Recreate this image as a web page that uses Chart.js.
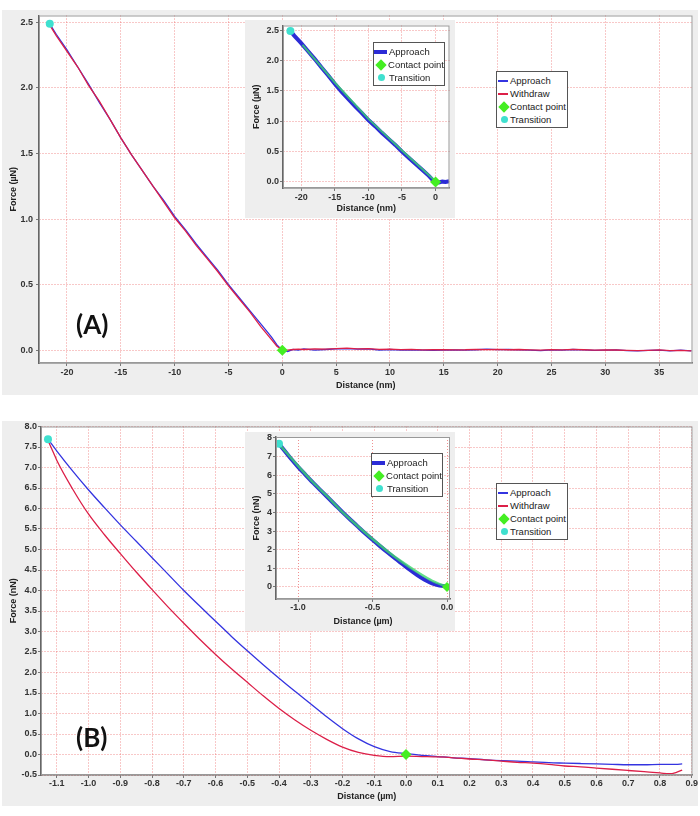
<!DOCTYPE html>
<html>
<head>
<meta charset="utf-8">
<script src="https://cdn.jsdelivr.net/npm/chart.js@4.4.1/dist/chart.umd.min.js"></script>
<style>
body { margin:0; background:#fff; width:700px; height:816px; position:relative; overflow:hidden; font-family:"Liberation Sans", Arial, sans-serif; }
canvas { position:absolute; background:#eeeeee; }
.legenda { position:absolute; background:#fff; border:1px solid #555; font-size:9.5px; color:#222; box-sizing:border-box; padding-top:2px; }
.item { height:13px; line-height:13px; white-space:nowrap; display:flex; align-items:center; }
.marca { display:inline-flex; justify-content:center; align-items:center; height:13px; }
.rotulo { position:absolute; font:bold 26px Lato, "Open Sans", sans-serif; color:#111; }
</style>
</head>
<body>
<canvas id="mainA" width="696" height="385" style="left:2px;top:10px"></canvas>
<canvas id="insetA" width="210" height="198" style="left:245px;top:20px"></canvas>
<canvas id="mainB" width="696" height="385" style="left:2px;top:421px"></canvas>
<canvas id="insetB" width="210" height="199" style="left:245px;top:432px"></canvas>

<div class="legenda" id="legMainA" style="left:496px;top:71px;width:72px;height:57px"></div>
<div class="legenda" id="legInsetA" style="left:373px;top:42px;width:72px;height:44px"></div>
<div class="legenda" id="legMainB" style="left:496px;top:483px;width:72px;height:57px"></div>
<div class="legenda" id="legInsetB" style="left:371px;top:453px;width:72px;height:44px"></div>

<div class="rotulo" style="left:76px;top:308px">(A)</div>
<div class="rotulo" style="left:76px;top:721px">(B)</div>

<script>
// ---------- Painel A (distância em nm, força em µN) ----------
const distA = [-21.6, -21, -20, -19, -18, -17, -16, -15, -14, -13, -12, -11, -10, -9, -8, -7, -6, -5, -4, -3, -2, -1, -0.5, 0,
  0.5, 1, 1.5, 2, 3, 4, 5, 6, 7, 8, 9, 10, 11, 12, 13, 14, 15, 16, 17, 18, 19, 20, 21, 22, 23, 24, 25, 26, 27, 28, 29, 30,
  31, 32, 33, 34, 35, 36, 37, 38];
const aproxA = [2.49, 2.41, 2.29, 2.16, 2.03, 1.89, 1.76, 1.62, 1.49, 1.37, 1.25, 1.14, 1.02, 0.92, 0.81, 0.71, 0.61, 0.50, 0.40, 0.30, 0.20, 0.10, 0.04, 0.00,
  -0.01, 0.005, 0.0, 0.01, 0.0, 0.005, 0.01, 0.012, 0.008, 0.01, 0.0, 0.005, 0.0, 0.003, 0.0, -0.002, 0.0, 0.002, 0.0, 0.003, 0.008, 0.004,
  0.005, 0.002, 0.0, -0.003, 0.002, 0.0, 0.005, 0.002, -0.002, 0.0, 0.002, -0.003, -0.006, -0.002, 0.0, -0.005, 0.0, -0.005];
const retiradaA = [2.48, 2.40, 2.28, 2.16, 2.02, 1.90, 1.76, 1.62, 1.49, 1.37, 1.25, 1.13, 1.01, 0.91, 0.80, 0.70, 0.60, 0.49, 0.39, 0.29, 0.18, 0.08, 0.03, 0.00,
  0.0, 0.005, 0.008, 0.005, 0.01, 0.008, 0.012, 0.015, 0.01, 0.012, 0.006, 0.008, 0.004, 0.006, 0.002, 0.003, 0.004, 0.002, 0.003, 0.006, 0.004, 0.006,
  0.003, 0.005, 0.002, 0.0, 0.004, 0.002, 0.006, 0.003, 0.0, 0.002, 0.001, -0.002, -0.004, -0.001, 0.002, -0.003, -0.002, -0.006];
const ajusteDistA = [-19.8, -15, -10, -5, 0];
const ajusteForcaA = [2.26, 1.64, 1.04, 0.52, 0.01];
const contatoA = { x: 0, y: 0 };
const transicaoA = { x: -21.6, y: 2.49 };
const ticksXA = [-20, -15, -10, -5, 0, 5, 10, 15, 20, 25, 30, 35];
const ticksYA = [0, 0.5, 1, 1.5, 2, 2.5];
const ticksXInsetA = [-20, -15, -10, -5, 0];

// ---------- Painel B (distância em µm, força em nN) ----------
const distAproxB = [-1.128, -1.10, -1.05, -1.00, -0.95, -0.90, -0.85, -0.80, -0.75, -0.70, -0.65, -0.60, -0.55, -0.50, -0.45, -0.40,
  -0.35, -0.30, -0.25, -0.20, -0.15, -0.10, -0.05, 0.00, 0.05, 0.10, 0.15, 0.20, 0.25, 0.30, 0.35, 0.40, 0.45, 0.50, 0.55, 0.60,
  0.65, 0.70, 0.75, 0.80, 0.85, 0.87];
const aproxB = [7.69, 7.40, 6.91, 6.45, 6.02, 5.60, 5.20, 4.80, 4.40, 4.00, 3.62, 3.25, 2.88, 2.53, 2.19, 1.86,
  1.54, 1.23, 0.92, 0.63, 0.38, 0.19, 0.07, 0.02, -0.02, -0.05, -0.08, -0.10, -0.13, -0.15, -0.16, -0.18, -0.20, -0.21, -0.22, -0.23,
  -0.24, -0.25, -0.25, -0.24, -0.24, -0.23];
const distRetB = [-1.128, -1.11, -1.10, -1.05, -1.00, -0.95, -0.90, -0.85, -0.80, -0.75, -0.70, -0.65, -0.60, -0.55, -0.50, -0.45,
  -0.40, -0.35, -0.30, -0.25, -0.20, -0.15, -0.10, -0.05, 0.00, 0.05, 0.10, 0.15, 0.20, 0.25, 0.30, 0.35, 0.40, 0.45, 0.50, 0.55,
  0.60, 0.65, 0.70, 0.75, 0.80, 0.83, 0.85, 0.87];
const retiradaB = [7.66, 7.35, 7.17, 6.47, 5.86, 5.36, 4.90, 4.45, 4.02, 3.60, 3.20, 2.81, 2.44, 2.09, 1.76, 1.43,
  1.12, 0.84, 0.59, 0.37, 0.18, 0.05, -0.02, -0.05, -0.04, -0.05, -0.06, -0.08, -0.11, -0.13, -0.16, -0.19, -0.21, -0.24, -0.28, -0.30,
  -0.33, -0.36, -0.39, -0.42, -0.45, -0.47, -0.44, -0.38];
const ajusteDistB = [-1.12, -1.0, -0.9, -0.8, -0.7, -0.6, -0.5, -0.4, -0.3, -0.2, -0.1, 0.0];
const ajusteForcaB = [7.60, 6.50, 5.62, 4.83, 4.00, 3.27, 2.57, 1.92, 1.33, 0.80, 0.33, 0.0];
const contatoB = { x: 0, y: 0 };
const transicaoB = { x: -1.128, y: 7.69 };
const ticksXB = [-1.1, -1.0, -0.9, -0.8, -0.7, -0.6, -0.5, -0.4, -0.3, -0.2, -0.1, 0.0, 0.1, 0.2, 0.3, 0.4, 0.5, 0.6, 0.7, 0.8, 0.9];
const ticksYB = [-0.5, 0, 0.5, 1, 1.5, 2, 2.5, 3, 3.5, 4, 4.5, 5, 5.5, 6, 6.5, 7, 7.5, 8];
const ticksXInsetB = [-1.0, -0.5, 0.0];
const ticksYInsetB = [0, 1, 2, 3, 4, 5, 6, 7, 8];

const corAzul = '#3434e0';
const corVermelho = '#dc1f48';
const corVerde = '#44ee22';
const corCiano = '#3fe0cf';
const corGrade = 'rgba(230,70,70,0.6)';
const fonteTick = { family: '"Liberation Sans", Arial, sans-serif', size: 9, weight: 'bold' };

function pontos(xs, ys) {
  return xs.map((x, i) => ({ x: x, y: ys[i] }));
}

// fundo branco da área do gráfico e contorno cinza
const fundoPlot = {
  id: 'fundoPlot',
  beforeDraw(chart) {
    const a = chart.chartArea, ctx = chart.ctx;
    ctx.save();
    ctx.fillStyle = '#fff';
    ctx.fillRect(a.left, a.top, a.right - a.left, a.bottom - a.top);
    ctx.restore();
  },
  afterDraw(chart) {
    const a = chart.chartArea, ctx = chart.ctx;
    ctx.save();
    ctx.strokeStyle = '#999';
    ctx.lineWidth = 1;
    ctx.strokeRect(a.left + 0.5, a.top + 0.5, a.right - a.left - 1, a.bottom - a.top - 1);
    ctx.restore();
  }
};

function eixo(c) {
  return {
    type: 'linear',
    min: c.min,
    max: c.max,
    afterBuildTicks: s => { s.ticks = c.ticks.map(v => ({ value: v })); },
    afterFit: s => {
      if (c.vertical) s.width = c.tam; else s.height = c.tam;
      s.paddingLeft = 0; s.paddingRight = 0; s.paddingTop = 0; s.paddingBottom = 0;
    },
    ticks: { callback: v => v.toFixed(c.dec), font: fonteTick, color: '#333', padding: c.pad, maxRotation: 0, autoSkip: false },
    grid: { color: corGrade, tickColor: '#777', tickLength: 3 },
    border: { color: '#666', width: 1.5, dash: [1, 2] },
    title: {
      display: true, text: c.titulo, font: fonteTick, color: '#222',
      padding: c.vertical ? { top: 6, bottom: 0 } : { top: 0, bottom: c.titPad }
    }
  };
}

function criarGrafico(id, datasets, x, y, padding) {
  return new Chart(document.getElementById(id), {
    type: 'scatter',
    data: { datasets: datasets },
    options: {
      responsive: false,
      animation: false,
      layout: { padding: padding },
      plugins: { legend: { display: false }, tooltip: { enabled: false } },
      scales: { x: eixo(x), y: eixo(Object.assign({ vertical: true }, y)) }
    },
    plugins: [fundoPlot]
  });
}

function linha(label, dados, cor, largura, ordem, naLegenda, suave) {
  return { label: label, data: dados, showLine: true, borderColor: cor, backgroundColor: cor,
    borderWidth: largura, pointRadius: 0, order: ordem, legenda: naLegenda !== false,
    cubicInterpolationMode: suave ? 'monotone' : 'default', tension: suave ? 0.4 : 0 };
}
function marcador(label, ponto, cor, estilo, raio) {
  return { label: label, data: [ponto], showLine: false, pointStyle: estilo, pointRadius: raio,
    backgroundColor: cor, borderColor: cor, borderWidth: 0, order: 0, legenda: true };
}

// legenda em HTML montada a partir dos datasets
function montarLegenda(idDiv, datasets, larguraAmostra, recuo) {
  const div = document.getElementById(idDiv);
  div.style.paddingLeft = recuo + 'px';
  datasets.filter(ds => ds.legenda).forEach(ds => {
    const item = document.createElement('div');
    item.className = 'item';
    const marca = document.createElement('span');
    marca.className = 'marca';
    marca.style.width = (larguraAmostra + 2) + 'px';
    const forma = document.createElement('span');
    if (ds.showLine) {
      forma.style.cssText = 'display:block;width:' + larguraAmostra + 'px;height:' + Math.max(2, ds.borderWidth) + 'px;background:' + ds.borderColor;
      marca.style.justifyContent = 'flex-start';
    } else if (ds.pointStyle === 'rectRot') {
      forma.style.cssText = 'display:block;width:8px;height:8px;transform:rotate(45deg);background:' + ds.backgroundColor;
    } else {
      forma.style.cssText = 'display:block;width:7px;height:7px;border-radius:50%;background:' + ds.backgroundColor;
    }
    marca.appendChild(forma);
    item.appendChild(marca);
    const txt = document.createElement('span');
    txt.textContent = ds.label;
    item.appendChild(txt);
    div.appendChild(item);
  });
}

// ---------- A principal ----------
const dsMainA = [
  linha('Approach', pontos(distA, aproxA), corAzul, 1.3, 2),
  linha('Withdraw', pontos(distA, retiradaA), corVermelho, 1.3, 1),
  marcador('Contact point', contatoA, corVerde, 'rectRot', 5.5),
  marcador('Transition', transicaoA, corCiano, 'circle', 4)
];
criarGrafico('mainA', dsMainA,
  { min: -22.6, max: 38.1, ticks: ticksXA, dec: 0, tam: 32, pad: 1, titulo: 'Distance (nm)', titPad: 4.5 },
  { min: -0.098, max: 2.553, ticks: ticksYA, dec: 1, tam: 37, pad: 3, titulo: 'Force (µN)' },
  { top: 3, right: 3, left: 0, bottom: 0 });
montarLegenda('legMainA', dsMainA, 10, 1);

// ---------- A detalhe ----------
const dsInsetA = [
  linha('Approach', pontos(distA.filter(x => x <= 2.1), aproxA), '#2c2cd6', 4, 2),
  linha('Ajuste', pontos(ajusteDistA, ajusteForcaA), 'rgba(60,215,110,0.8)', 2, 1, false),
  marcador('Contact point', contatoA, corVerde, 'rectRot', 5.5),
  marcador('Transition', transicaoA, corCiano, 'circle', 4)
];
criarGrafico('insetA', dsInsetA,
  { min: -22.7, max: 2.07, ticks: ticksXInsetA, dec: 0, tam: 30, pad: 1, titulo: 'Distance (nm)', titPad: 3.6 },
  { min: -0.1, max: 2.58, ticks: ticksYA, dec: 1, tam: 38, pad: 1, titulo: 'Force (µN)' },
  { top: 3, right: 5, left: 0, bottom: 0 });
montarLegenda('legInsetA', dsInsetA, 13, 0);

// ---------- B principal ----------
const dsMainB = [
  linha('Approach', pontos(distAproxB, aproxB), corAzul, 1.3, 2, true, true),
  linha('Withdraw', pontos(distRetB, retiradaB), corVermelho, 1.3, 1, true, true),
  marcador('Contact point', contatoB, corVerde, 'rectRot', 5.5),
  marcador('Transition', transicaoB, corCiano, 'circle', 4)
];
criarGrafico('mainB', dsMainB,
  { min: -1.15, max: 0.9025, ticks: ticksXB, dec: 1, tam: 31, pad: 0, titulo: 'Distance (µm)', titPad: 4 },
  { min: -0.5, max: 8.0, ticks: ticksYB, dec: 1, tam: 39, pad: 1, titulo: 'Force (nN)' },
  { top: 3, right: 4, left: 0, bottom: 0 });
montarLegenda('legMainB', dsMainB, 10, 1);

// ---------- B detalhe ----------
const dsInsetB = [
  linha('Approach', pontos(distAproxB.filter(x => x <= 0.001), aproxB), '#2c2cd6', 4, 2, true, true),
  linha('Ajuste', pontos(ajusteDistB, ajusteForcaB), 'rgba(60,215,110,0.8)', 2.5, 1, false, true),
  marcador('Contact point', contatoB, corVerde, 'rectRot', 5),
  marcador('Transition', transicaoB, corCiano, 'circle', 4)
];
criarGrafico('insetB', dsInsetB,
  { min: -1.148, max: 0.02, ticks: ticksXInsetB, dec: 1, tam: 32, pad: 0, titulo: 'Distance (µm)', titPad: 4 },
  { min: -0.65, max: 8.05, ticks: ticksYInsetB, dec: 0, tam: 31, pad: 1, titulo: 'Force (nN)' },
  { top: 3, right: 5, left: 0, bottom: 0 });
montarLegenda('legInsetB', dsInsetB, 13, 0);
</script>
</body>
</html>
